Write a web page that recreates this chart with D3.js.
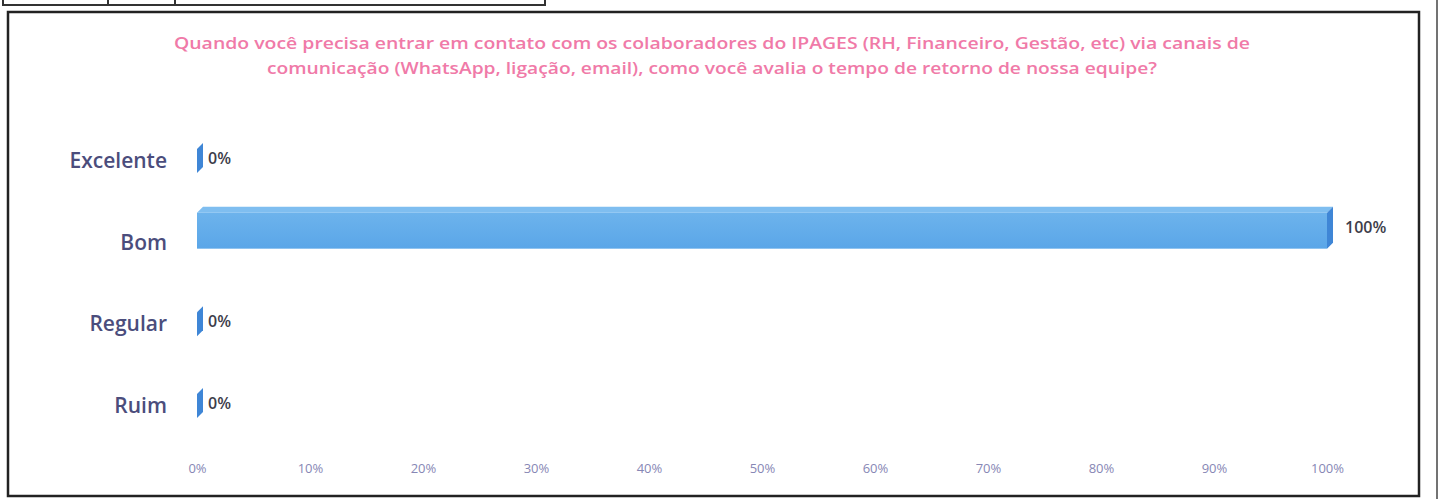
<!DOCTYPE html>
<html>
<head>
<meta charset="utf-8">
<script src="https://cdn.jsdelivr.net/npm/d3@7"></script>
<style>
  body { margin: 0; background: #fff; }
  svg { display: block; }
</style>
</head>
<body>
<div id="chart"></div>
<script>
// data
const categories = ["Excelente", "Bom", "Regular", "Ruim"];
const values = [0, 1, 0, 0];
const valueLabels = ["0%", "100%", "0%", "0%"];
const tickValues = [0, 0.1, 0.2, 0.3, 0.4, 0.5, 0.6, 0.7, 0.8, 0.9, 1];
const titleLines = [
  "Quando você precisa entrar em contato com os colaboradores do IPAGES (RH, Financeiro, Gestão, etc) via canais de",
  "comunicação (WhatsApp, ligação, email), como você avalia o tempo de retorno de nossa equipe?"
];

const W = 1445, H = 499;
const svg = d3.select("#chart").append("svg")
  .attr("width", W).attr("height", H);

// gradients for the 3d bars
const defs = svg.append("defs");
const gFront = defs.append("linearGradient").attr("id", "front")
  .attr("x1", 0).attr("y1", 0).attr("x2", 0).attr("y2", 1);
gFront.append("stop").attr("offset", "0%").attr("stop-color", "#6db3ec");
gFront.append("stop").attr("offset", "100%").attr("stop-color", "#5aa6e8");

// scanned table strip at the top (cut off)
svg.append("path")
  .attr("d", "M3,-2 L3,5 L545,5 L545,-2 M108,-2 L108,5 M175,-2 L175,5")
  .attr("fill", "none").attr("stroke", "#333").attr("stroke-width", 2);
svg.append("line")
  .attr("x1", 1437).attr("x2", 1437).attr("y1", 0).attr("y2", H)
  .attr("stroke", "#444").attr("stroke-width", 1.5);

// chart frame
svg.append("rect")
  .attr("x", 8).attr("y", 12).attr("width", 1411).attr("height", 484)
  .attr("fill", "none").attr("stroke", "#222").attr("stroke-width", 2.5);

// title
svg.append("g").selectAll("text")
  .data(titleLines)
  .join("text")
  .attr("x", 712)
  .attr("y", (d, i) => 49 + i * 25)
  .attr("text-anchor", "middle")
  .attr("font-family", "Open Sans, sans-serif")
  .attr("font-weight", 600)
  .attr("font-size", 16)
  .attr("fill", "#f07aa8")
  .attr("textLength", (d, i) => i === 0 ? 1076 : 890)
  .attr("lengthAdjust", "spacingAndGlyphs")
  .text(d => d);

const x = d3.scaleLinear().domain([0, 1]).range([197, 1327]);
const y = d3.scalePoint().domain(categories).range([160, 405]);

// x axis labels
const xAxis = svg.append("g")
  .attr("transform", "translate(0,466)")
  .call(d3.axisBottom(x).tickValues(tickValues).tickFormat(d3.format(".0%")).tickSize(0));
xAxis.select(".domain").remove();
xAxis.selectAll("text")
  .attr("dy", "0.32em")
  .attr("font-family", "Open Sans, sans-serif")
  .attr("font-size", 13)
  .attr("fill", "#8787b5");

// category labels
const yAxis = svg.append("g")
  .attr("transform", "translate(167,0)")
  .call(d3.axisLeft(y).tickSize(0).tickPadding(0));
yAxis.select(".domain").remove();
yAxis.selectAll("text")
  .attr("dy", "0.35em")
  .attr("font-family", "Open Sans, sans-serif")
  .attr("font-weight", 600)
  .attr("font-size", 21)
  .attr("fill", "#4b4d7c");

// bars with a small 3d depth
const depth = 6;
const barH = d => d.v > 0 ? 42 : 30;
const barY = d => y(d.c) - (d.v > 0 ? 14 : 2) - barH(d) / 2;
const rows = categories.map((c, i) => ({ c, v: values[i], label: valueLabels[i] }));

const bars = svg.append("g").selectAll("g")
  .data(rows)
  .join("g");

bars.append("rect")
  .attr("x", x(0))
  .attr("y", d => barY(d) + depth)
  .attr("width", d => x(d.v) - x(0))
  .attr("height", d => barH(d) - depth)
  .attr("fill", "url(#front)");

// top face
bars.append("path")
  .attr("d", d => {
    const x0 = x(0), x1 = x(d.v), t = barY(d);
    return `M${x0},${t + depth} L${x0 + depth},${t} L${x1 + depth},${t} L${x1},${t + depth} Z`;
  })
  .attr("fill", "#7fbef0");

// side face
bars.append("path")
  .attr("d", d => {
    const x1 = x(d.v), t = barY(d), b = barY(d) + barH(d);
    return `M${x1},${t + depth} L${x1 + depth},${t} L${x1 + depth},${b - depth} L${x1},${b} Z`;
  })
  .attr("fill", "#3f86d6");

// value labels
bars.append("text")
  .attr("x", d => x(d.v) + (d.v > 0 ? 18 : 11))
  .attr("y", d => barY(d) + barH(d) / 2)
  .attr("dy", "0.35em")
  .attr("font-family", "Open Sans, sans-serif")
  .attr("font-weight", 600)
  .attr("font-size", 16)
  .attr("fill", "#3d3d4a")
  .text(d => d.label);
</script>
</body>
</html>
